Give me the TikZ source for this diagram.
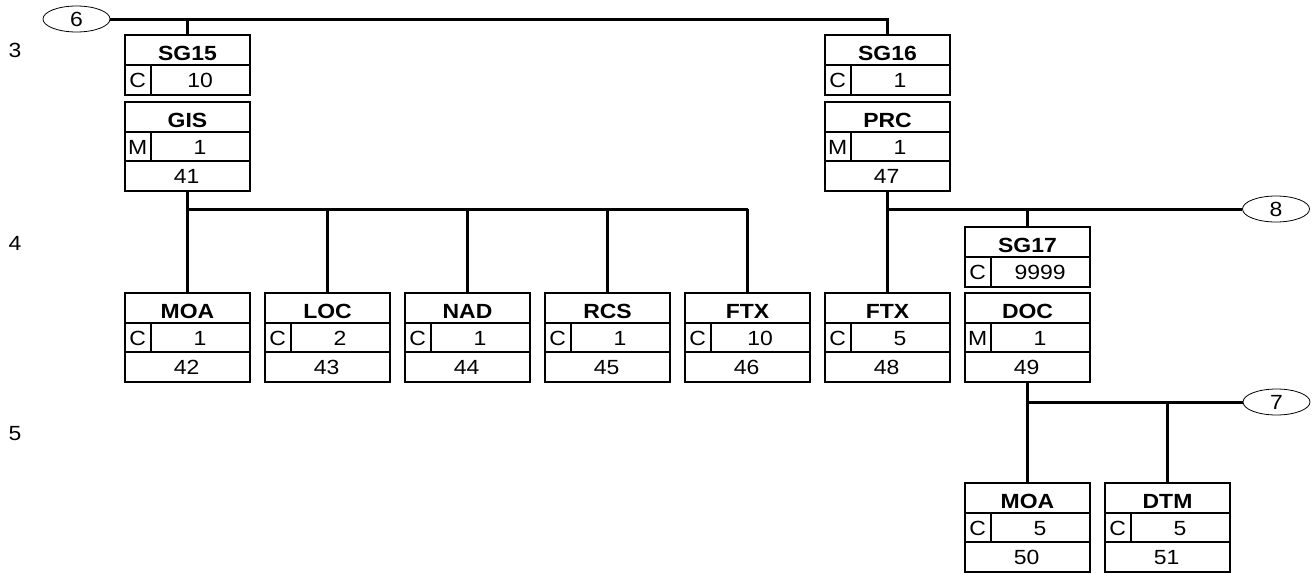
\documentclass[tikz,border=0pt]{standalone}
\usepackage{fontspec}
\setmainfont{Liberation Sans}[FakeStretch=1.12]
\usetikzlibrary{shapes.geometric}
\tikzset{
  box/.style={draw, line width=1.8pt, minimum width=125pt, inner sep=0pt, anchor=north},
  rule/.style={line width=1.8pt},
  conn/.style={line width=3pt},
  lbl/.style={inner sep=0pt, anchor=base, font=\fontsize{20.5}{22}\selectfont},
  ttl/.style={lbl, font=\fontsize{20.5}{22}\selectfont\bfseries},
  oval/.style={draw, ellipse, line width=0.8pt, minimum width=67pt, minimum height=26pt, inner sep=0pt, text height=14.7pt, text depth=0pt, font=\fontsize{20.5}{22}\selectfont},
}
% segment box: name, left, top, title, status, rep, number
\newcommand\segm[7]{%
  \node[box, minimum height=89pt] (#1) at (#2+62.5,#3) {};
  \draw[rule] ([yshift=-31pt]#1.north west) -- ([yshift=-31pt]#1.north east);
  \draw[rule] ([yshift=-60pt]#1.north west) -- ([yshift=-60pt]#1.north east);
  \draw[rule] ([shift={(27pt,-31pt)}]#1.north west) -- ([shift={(27pt,-60pt)}]#1.north west);
  \node[ttl] (#1t) at ([yshift=-26.5pt]#1.north) {#4};
  \node[lbl] (#1s) at ([shift={(13.5pt,-53.5pt)}]#1.north west) {#5};
  \node[lbl] (#1r) at ([shift={(76pt,-53.5pt)}]#1.north west) {#6};
  \node[lbl] (#1n) at ([shift={(62.5pt,-82.5pt)}]#1.north west) {#7};
}
% group box: name, left, top, title, status, rep
\newcommand\grp[6]{%
  \node[box, minimum height=60pt] (#1) at (#2+62.5,#3) {};
  \draw[rule] ([yshift=-31pt]#1.north west) -- ([yshift=-31pt]#1.north east);
  \draw[rule] ([shift={(27pt,-31pt)}]#1.north west) -- ([shift={(27pt,-60pt)}]#1.north west);
  \node[ttl] (#1t) at ([yshift=-26.5pt]#1.north) {#4};
  \node[lbl] (#1s) at ([shift={(13.5pt,-53.5pt)}]#1.north west) {#5};
  \node[lbl] (#1r) at ([shift={(76pt,-53.5pt)}]#1.north west) {#6};
}
\begin{document}
\begin{tikzpicture}[x=1pt, y=-1pt]
\useasboundingbox (0,0) rectangle (1316,573);

% level labels
\node[lbl] (l3) at (15,57.5) {3};
\node[lbl] (l4) at (15,250.5) {4};
\node[lbl] (l5) at (15,440.5) {5};

% ovals
\node[oval] (e6) at (76.5,19) {6};
\node[oval] (e8) at (1276,209) {8};
\node[oval] (e7) at (1276.5,402) {7};

% level 3
\grp{sg15}{125}{34}{SG15}{C}{10}
\segm{gis}{125}{101}{GIS}{M}{1}{41}
\grp{sg16}{825}{34}{SG16}{C}{1}
\segm{prc}{825}{101}{PRC}{M}{1}{47}

% level 4
\segm{moaA}{125}{292}{MOA}{C}{1}{42}
\segm{loc}{265}{292}{LOC}{C}{2}{43}
\segm{nad}{405}{292}{NAD}{C}{1}{44}
\segm{rcs}{545}{292}{RCS}{C}{1}{45}
\segm{ftxA}{685}{292}{FTX}{C}{10}{46}
\segm{ftxB}{825}{292}{FTX}{C}{5}{48}
\grp{sg17}{965}{226}{SG17}{C}{9999}
\segm{doc}{965}{292}{DOC}{M}{1}{49}

% level 5
\segm{moaB}{965}{482}{MOA}{C}{5}{50}
\segm{dtm}{1105}{482}{DTM}{C}{5}{51}

% connectors
\coordinate (b4) at (0,209);
\draw[conn] (e6.east) -- (sg16.north |- e6.east) -- (sg16.north);
\draw[conn] (sg15.north |- e6.east) -- (sg15.north);

\draw[conn] (gis.south) -- (moaA.north);
\draw[conn] (gis.south |- b4) -- (ftxA.north |- b4);
\draw[conn] (loc.north |- b4) -- (loc.north);
\draw[conn] (nad.north |- b4) -- (nad.north);
\draw[conn] (rcs.north |- b4) -- (rcs.north);
\draw[conn] (ftxA.north |- b4) -- (ftxA.north);

\draw[conn] (prc.south) -- (ftxB.north);
\draw[conn] (prc.south |- e8.west) -- (e8.west);
\draw[conn] (sg17.north |- e8.west) -- (sg17.north);

\draw[conn] (doc.south) -- (moaB.north);
\draw[conn] (doc.south |- e7.west) -- (e7.west);
\draw[conn] (dtm.north |- e7.west) -- (dtm.north);
\end{tikzpicture}
\end{document}
